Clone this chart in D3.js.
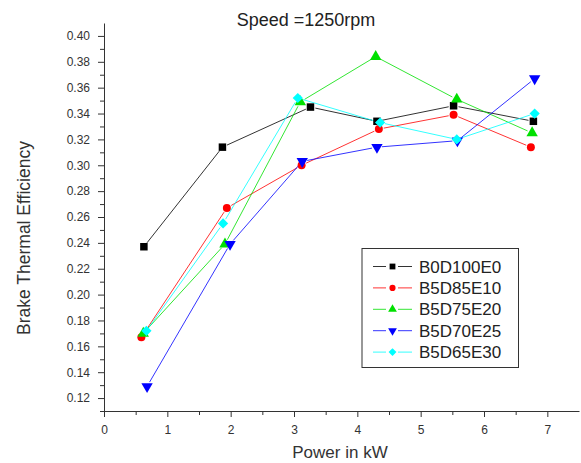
<!DOCTYPE html>
<html>
<head>
<meta charset="utf-8">
<script src="https://cdn.jsdelivr.net/npm/d3@7"></script>
<style>
  body { margin: 0; background: #fff; }
  svg { display: block; font-family: Arial, "Liberation Sans", sans-serif; }
  .axis path, .axis line { stroke: #333; }
  .axis text { fill: #333; font-size: 12px; }
</style>
</head>
<body>
<div id="chart"></div>
<script>
// series names and values
const seriesNames = ['B0D100E0', 'B5D85E10', 'B5D75E20', 'B5D70E25', 'B5D65E30'];
const seriesColors = ['#000000', '#ff0000', '#00e000', '#0000ff', '#00ffff'];
const seriesShapes = ['square', 'circle', 'triangle', 'down', 'diamond'];

const powerB0D100E0 = [0.63, 1.87, 3.26, 4.31, 5.52, 6.78];
const bteB0D100E0 = [0.237, 0.314, 0.345, 0.334, 0.346, 0.334];
const powerB5D85E10 = [0.59, 1.94, 3.12, 4.34, 5.52, 6.74];
const bteB5D85E10 = [0.167, 0.267, 0.300, 0.328, 0.339, 0.314];
const powerB5D75E20 = [0.62, 1.91, 3.10, 4.29, 5.57, 6.76];
const bteB5D75E20 = [0.170, 0.239, 0.349, 0.384, 0.351, 0.325];
const powerB5D70E25 = [0.68, 1.99, 3.13, 4.31, 5.58, 6.80];
const bteB5D70E25 = [0.129, 0.239, 0.303, 0.314, 0.319, 0.367];
const powerB5D65E30 = [0.67, 1.88, 3.06, 4.36, 5.57, 6.80];
const bteB5D65E30 = [0.172, 0.255, 0.352, 0.333, 0.320, 0.340];

const xTicks = [0, 1, 2, 3, 4, 5, 6, 7];
const yTicks = [0.12, 0.14, 0.16, 0.18, 0.20, 0.22, 0.24, 0.26, 0.28, 0.30, 0.32, 0.34, 0.36, 0.38, 0.40];

const allPower = [powerB0D100E0, powerB5D85E10, powerB5D75E20, powerB5D70E25, powerB5D65E30];
const allBte = [bteB0D100E0, bteB5D85E10, bteB5D75E20, bteB5D70E25, bteB5D65E30];

const width = 581;
const height = 463;
const margin = { top: 23, right: 2, bottom: 52, left: 104 };

const svg = d3.select('#chart')
  .append('svg')
  .attr('width', width)
  .attr('height', height);

const xScale = d3.scaleLinear().domain([0, 7.5]).range([margin.left, width - margin.right]);
const yScale = d3.scaleLinear().domain([0.11, 0.41]).range([height - margin.bottom, margin.top]);

// minor ticks
svg.append('g')
  .attr('class', 'axis')
  .attr('transform', `translate(0, ${height - margin.bottom})`)
  .call(d3.axisBottom(xScale).tickValues(d3.range(0.5, 7.5, 1)).tickSize(4).tickFormat(''))
  .call(g => g.select('.domain').remove());
svg.append('g')
  .attr('class', 'axis')
  .attr('transform', `translate(${margin.left}, 0)`)
  .call(d3.axisLeft(yScale).tickValues(d3.range(0.11, 0.41, 0.02)).tickSize(4).tickFormat(''))
  .call(g => g.select('.domain').remove());

// major axes
svg.append('g')
  .attr('class', 'axis')
  .attr('transform', `translate(0, ${height - margin.bottom})`)
  .call(d3.axisBottom(xScale).tickValues(xTicks).tickSize(6).tickSizeOuter(0).tickPadding(8).tickFormat(d3.format('d')));
svg.append('g')
  .attr('class', 'axis')
  .attr('transform', `translate(${margin.left}, 0)`)
  .call(d3.axisLeft(yScale).tickValues(yTicks).tickSize(6).tickSizeOuter(0).tickPadding(8).tickFormat(d3.format('.2f')));

// titles
svg.append('text')
  .attr('x', 306).attr('y', 26)
  .attr('text-anchor', 'middle')
  .attr('font-size', 18).attr('fill', '#222')
  .text('Speed =1250rpm');
svg.append('text')
  .attr('x', 340).attr('y', 458)
  .attr('text-anchor', 'middle')
  .attr('font-size', 17).attr('fill', '#333')
  .text('Power in kW');
svg.append('text')
  .attr('transform', 'translate(30, 238) rotate(-90)')
  .attr('text-anchor', 'middle')
  .attr('font-size', 17.5).attr('fill', '#333')
  .text('Brake Thermal Efficiency');

function symbolFor(shape, scale = 1) {
  if (shape === 'square') return d3.symbol().type(d3.symbolSquare).size(56 * scale)();
  if (shape === 'circle') return d3.symbol().type(d3.symbolCircle).size(50 * scale)();
  if (shape === 'triangle' || shape === 'down') return d3.symbol().type(d3.symbolTriangle).size(56 * scale)();
  return d3.symbol().type(d3.symbolSquare).size(52 * scale)();
}

function rotationFor(shape) {
  if (shape === 'down') return ' rotate(180)';
  if (shape === 'diamond') return ' rotate(45)';
  return '';
}

// lines stop short of each marker, as in the original
const gap = 5;
seriesNames.forEach((name, i) => {
  const pts = allPower[i].map((p, j) => [xScale(p), yScale(allBte[i][j])]);
  const g = svg.append('g');
  for (let j = 0; j < pts.length - 1; j++) {
    const [x1, y1] = pts[j];
    const [x2, y2] = pts[j + 1];
    const len = Math.hypot(x2 - x1, y2 - y1);
    const ux = (x2 - x1) / len, uy = (y2 - y1) / len;
    g.append('line')
      .attr('x1', x1 + ux * gap).attr('y1', y1 + uy * gap)
      .attr('x2', x2 - ux * gap).attr('y2', y2 - uy * gap)
      .attr('stroke', seriesColors[i])
      .attr('stroke-opacity', 0.8)
      .attr('stroke-width', 1);
  }
});

seriesNames.forEach((name, i) => {
  svg.append('g')
    .selectAll('path')
    .data(allPower[i].map((p, j) => [p, allBte[i][j]]))
    .join('path')
    .attr('d', symbolFor(seriesShapes[i]))
    .attr('transform', d => `translate(${xScale(d[0])}, ${yScale(d[1])})` + rotationFor(seriesShapes[i]))
    .attr('fill', seriesColors[i]);
});

// legend
const legend = svg.append('g').attr('transform', 'translate(362, 248.5)');
legend.append('rect')
  .attr('width', 156.5).attr('height', 119)
  .attr('fill', '#fff').attr('stroke', '#333').attr('stroke-width', 1);
seriesNames.forEach((name, i) => {
  const y = 18 + i * 21.4;
  const row = legend.append('g').attr('transform', `translate(0, ${y})`);
  row.append('line').attr('x1', 11).attr('x2', 24).attr('y1', 0).attr('y2', 0)
    .attr('stroke', seriesColors[i]).attr('stroke-opacity', 0.8);
  row.append('line').attr('x1', 36).attr('x2', 50).attr('y1', 0).attr('y2', 0)
    .attr('stroke', seriesColors[i]).attr('stroke-opacity', 0.8);
  row.append('path')
    .attr('d', symbolFor(seriesShapes[i], 0.6))
    .attr('transform', `translate(30.5, 0)` + rotationFor(seriesShapes[i]))
    .attr('fill', seriesColors[i]);
  row.append('text')
    .attr('x', 57).attr('y', 6)
    .attr('font-size', 17).attr('fill', '#222')
    .text(name);
});
</script>
</body>
</html>
